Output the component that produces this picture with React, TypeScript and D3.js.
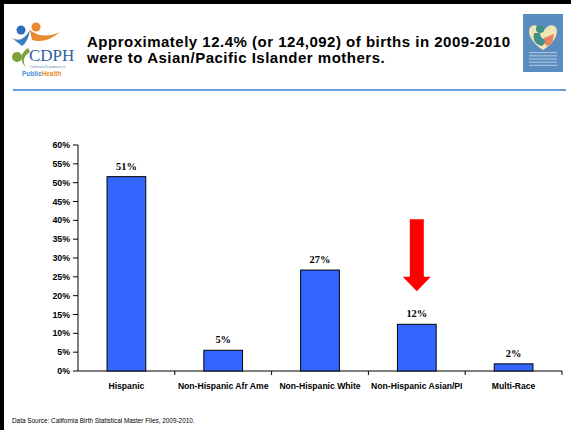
import React from "react";
import * as d3 from "d3";

const categories = ["Hispanic", "Non-Hispanic Afr Ame", "Non-Hispanic White", "Non-Hispanic Asian/PI", "Multi-Race"];
const values = [51.6, 5.5, 26.8, 12.4, 1.9];
const valueLabels = ["51%", "5%", "27%", "12%", "2%"];
const yTicks = [0, 5, 10, 15, 20, 25, 30, 35, 40, 45, 50, 55, 60];
const titleLines = [
  "Approximately 12.4% (or 124,092) of births in 2009-2010",
  "were to Asian/Pacific Islander mothers.",
];
const sourceText = "Data Source: California Birth Statistical Master Files, 2009-2010.";
const highlight = "Non-Hispanic Asian/PI";

export default function App() {
  const W = 571, H = 430;
  const left = 78, right = 562, top = 145, bottom = 371;
  const x = d3.scaleBand<string>().domain(categories).range([left, right]).paddingInner(0.6).paddingOuter(0.3);
  const xOuter = d3.scaleBand<string>().domain(categories).range([left, right]);
  const y = d3.scaleLinear().domain([0, 60]).range([bottom, top]);
  const sans = "Arial, 'Liberation Sans', sans-serif";
  const serif = "'Times New Roman', 'Liberation Serif', serif";

  const hx = (x(highlight) ?? 0) + x.bandwidth() / 2;
  const arrowTop = y(40.3), headStart = y(25), tip = y(21.2);

  return (
    <svg width={W} height={H} style={{ position: "absolute", left: 0, top: 0, background: "#fff" }}>
      <rect x={0} y={0} width={W} height={H} fill="#fff" />
      {/* frame */}
      <rect x={0} y={0} width={W} height={4} fill="#000" />
      <rect x={0} y={0} width={4} height={H} fill="#000" />
      {/* header */}
      <line x1={13} x2={566} y1={90} y2={90} stroke="#3a7fd0" strokeWidth={1.5} />
      {/* left logo */}
      <g>
        <circle cx={21} cy={30} r={4.5} fill="#2f6fb8" />
        <circle cx={36} cy={27} r={4.5} fill="#e98a2c" />
        <path d="M12,38 Q22,44 30,30 Q28,42 22,46 Z" fill="#3d7fc4" />
        <path d="M30,30 Q42,40 60,32 Q46,44 32,40 Z" fill="#e98a2c" />
        <path d="M28,48 Q16,56 26,68 Q20,58 30,52 Z" fill="#7aa23b" />
        <circle cx={17} cy={57} r={5} fill="#7aa23b" />
        <text x={29} y={61} fontFamily={serif} fontSize={17} fill="#2f5f9f">CDPH</text>
        <text x={30} y={68} fontFamily={serif} fontSize={3.5} fill="#5a7fb0">California Department of</text>
        <text x={22} y={76} fontFamily={sans} fontSize={6.5} fontWeight="bold" fill="#3d8fd8">Public<tspan fill="#e98a2c">Health</tspan></text>
      </g>
      {/* right logo */}
      <g>
        <rect x={523} y={14} width={40} height={58} fill="#5b8cbf" />
        <path d="M543,32 C536,20 526,26 530,36 C533,44 543,50 543,50 C543,50 553,44 556,36 C560,26 550,20 543,32 Z" fill="#efe6b4" />
        <circle cx={540} cy={29} r={4} fill="#3f8f8a" />
        <path d="M534,33 Q532,44 542,46 L548,40 Q540,40 540,33 Z" fill="#3f8f8a" />
        <path d="M544,38 L554,34 L552,44 L546,46 Z" fill="#e98060" />
        {[0, 1, 2, 3, 4].map((i) => (
          <rect key={i} x={529} y={52 + i * 3.2} width={28} height={1.2} fill="#c9d8ea" opacity={0.7} />
        ))}
      </g>
      {titleLines.map((t, i) => (
        <text key={i} x={87} y={46.5 + i * 16.5} fontFamily={sans} fontSize={15} letterSpacing={0.5} fontWeight="bold" fill="#000">{t}</text>
      ))}

      {/* y axis */}
      <line x1={left} x2={left} y1={top} y2={bottom} stroke="#000" strokeWidth={1} />
      {yTicks.map((t) => (
        <g key={t}>
          <line x1={left - 5} x2={left} y1={y(t)} y2={y(t)} stroke="#000" />
          <text x={left - 8} y={y(t)} dy="0.35em" textAnchor="end" fontFamily={sans} fontSize={8.8} fontWeight="bold">{t}%</text>
        </g>
      ))}
      {/* x axis */}
      <line x1={left} x2={right} y1={bottom} y2={bottom} stroke="#000" />
      {categories.map((c) => (
        <line key={c} x1={(xOuter(c) ?? 0) + xOuter.bandwidth()} x2={(xOuter(c) ?? 0) + xOuter.bandwidth()} y1={bottom} y2={bottom + 4} stroke="#000" />
      ))}
      {categories.map((c) => (
        <text key={c} x={(xOuter(c) ?? 0) + xOuter.bandwidth() / 2} y={389} textAnchor="middle" fontFamily={sans} fontSize={8.6} fontWeight="bold">{c}</text>
      ))}
      {/* bars */}
      {categories.map((c, i) => (
        <g key={c}>
          <rect x={x(c)} y={y(values[i])} width={x.bandwidth()} height={bottom - y(values[i])} fill="#3366ff" stroke="#000" strokeWidth={1} />
          <text x={(x(c) ?? 0) + x.bandwidth() / 2} y={y(values[i]) - 7} textAnchor="middle" fontFamily={serif} fontSize={10.4} fontWeight="bold">{valueLabels[i]}</text>
        </g>
      ))}
      {/* arrow */}
      <path
        d={`M${hx - 7},${arrowTop} L${hx + 7},${arrowTop} L${hx + 7},${headStart} L${hx + 14},${headStart} L${hx},${tip} L${hx - 14},${headStart} L${hx - 7},${headStart} Z`}
        fill="#ff0000"
      />
      <text x={12} y={423} fontFamily={sans} fontSize={6.4} fill="#000">{sourceText}</text>
    </svg>
  );
}
